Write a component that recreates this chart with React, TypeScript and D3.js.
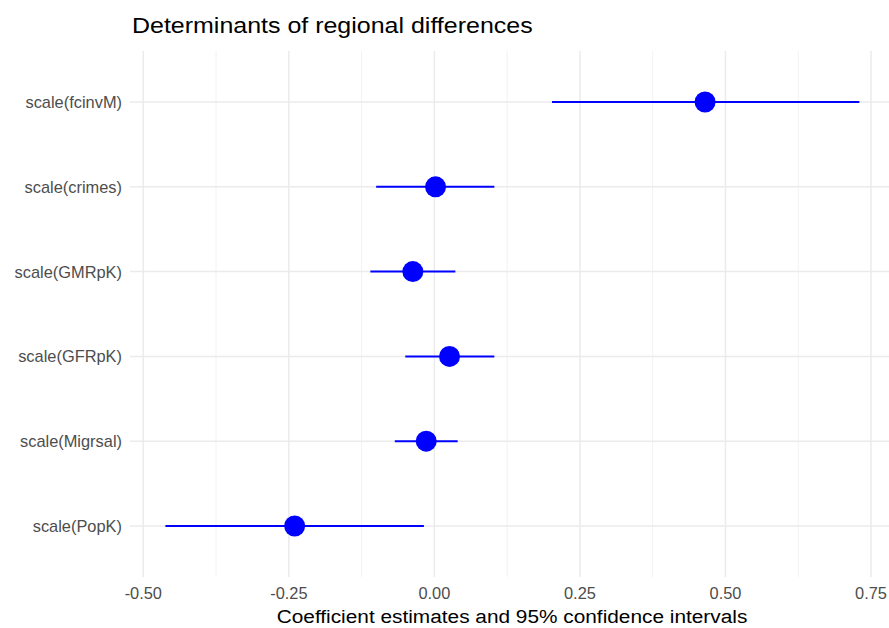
import React from "react";
import * as d3 from "d3";

const terms = ["scale(fcinvM)", "scale(crimes)", "scale(GMRpK)", "scale(GFRpK)", "scale(Migrsal)", "scale(PopK)"];
const estimates = [0.465, 0.002, -0.037, 0.026, -0.014, -0.240];
const lower = [0.202, -0.100, -0.110, -0.050, -0.068, -0.462];
const upper = [0.730, 0.103, 0.036, 0.103, 0.040, -0.018];
const xTicks = [-0.5, -0.25, 0, 0.25, 0.5, 0.75];
const xMinor = [-0.375, -0.125, 0.125, 0.375, 0.625];

const W = 889;
const H = 628;
const panel = { left: 130, right: 894, top: 51, bottom: 577 };

export default function App() {
  const x = d3.scaleLinear().domain([-0.5, 0.75]).range([143.3, 871]);
  const y = d3
    .scalePoint<string>()
    .domain(terms)
    .range([102, 526]);
  const fmt = (v: number) => d3.format(".2f")(v).replace("\u2212", "-");
  const font = "'Liberation Sans', Arial, sans-serif";
  return (
    <svg
      width={W}
      height={H}
      style={{ position: "absolute", left: 0, top: 0, background: "#fff" }}
      fontFamily={font}
    >
      <rect x={0} y={0} width={W} height={H} fill="#fff" />
      <clipPath id="pc">
        <rect x={panel.left} y={panel.top} width={W - panel.left} height={panel.bottom - panel.top} />
      </clipPath>
      <g clipPath="url(#pc)">
        {xMinor.map((t) => (
          <line key={"mi" + t} x1={x(t)} x2={x(t)} y1={panel.top} y2={panel.bottom} stroke="#F2F2F2" strokeWidth={1} />
        ))}
        {xTicks.map((t) => (
          <line key={"ma" + t} x1={x(t)} x2={x(t)} y1={panel.top} y2={panel.bottom} stroke="#EBEBEB" strokeWidth={1.5} />
        ))}
        {terms.map((t) => (
          <line key={"hy" + t} x1={panel.left} x2={panel.right} y1={y(t)!} y2={y(t)!} stroke="#EBEBEB" strokeWidth={1.5} />
        ))}
        {terms.map((t, i) => (
          <g key={"m" + t}>
            <line x1={x(lower[i])} x2={x(upper[i])} y1={y(t)!} y2={y(t)!} stroke="#0000FF" strokeWidth={2} />
            <circle cx={x(estimates[i])} cy={y(t)!} r={10.5} fill="#0000FF" />
          </g>
        ))}
      </g>
      {terms.map((t) => (
        <text key={"yl" + t} x={122} y={y(t)! + 6} textAnchor="end" fontSize={16.4} fill="#4D4D4D">
          {t}
        </text>
      ))}
      {xTicks.map((t) => (
        <text
          key={"xl" + t}
          transform={`translate(${x(t)},599) scale(1.05,1)`}
          textAnchor="middle"
          fontSize={15.6}
          fill="#4D4D4D"
        >
          {fmt(t)}
        </text>
      ))}
      <text
        transform={`translate(${(277 + 747) / 2},623) scale(1.12,1)`}
        textAnchor="middle"
        fontSize={18.6}
        fill="#000"
      >
        Coefficient estimates and 95% confidence intervals
      </text>
      <text transform="translate(132,33.3) scale(1.1,1)" fontSize={22.7} fill="#000">
        Determinants of regional differences
      </text>
    </svg>
  );
}
